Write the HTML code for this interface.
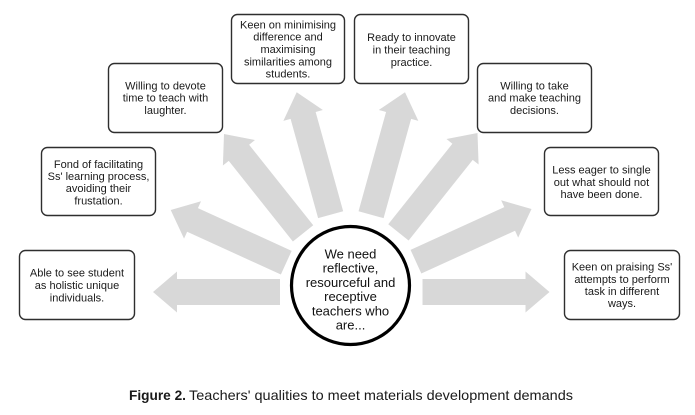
<!DOCTYPE html>
<html>
<head>
<meta charset="utf-8">
<style>
  html, body { margin: 0; padding: 0; background: #ffffff; }
  body { width: 695px; height: 415px; overflow: hidden; }
  svg { display: block; }
  .bt { font-family: "Liberation Sans", "DejaVu Sans", sans-serif; font-size: 11px; fill: #1a1a1a; text-anchor: middle; }
  .ct { font-family: "Liberation Sans", "DejaVu Sans", sans-serif; font-size: 13px; fill: #111; text-anchor: middle; }
  .cap { font-family: "Liberation Sans", "DejaVu Sans", sans-serif; font-size: 14px; fill: #1a1a1a; }
  .box { fill: #ffffff; stroke: #2e2e2e; stroke-width: 1.4; }
  .arr { fill: #d8d8d8; }
</style>
</head>
<body>
<svg width="695" height="415" viewBox="0 0 695 415" xmlns="http://www.w3.org/2000/svg">
  <defs>
    <polygon id="arrow" points="0,0 -24,-20.5 -24,-13 -127,-13 -127,13 -24,13 -24,20.5"/>
  </defs>

  <!-- Arrows -->
  <use href="#arrow" class="arr" transform="translate(153,292) rotate(180)"/>
  <use href="#arrow" class="arr" transform="translate(170.7,210) rotate(204.5)"/>
  <use href="#arrow" class="arr" transform="translate(224,134) rotate(231.5)"/>
  <use href="#arrow" class="arr" transform="translate(296.7,92.3) rotate(254.5)"/>
  <use href="#arrow" class="arr" transform="translate(405,92.3) rotate(285.5)"/>
  <use href="#arrow" class="arr" transform="translate(477.5,133) rotate(308.5)"/>
  <use href="#arrow" class="arr" transform="translate(531.5,209) rotate(335.5)"/>
  <use href="#arrow" class="arr" transform="translate(549.5,292) rotate(0)"/>

  <!-- Central circle -->
  <circle cx="350.5" cy="285.5" r="59" fill="#ffffff" stroke="#000" stroke-width="3.2"/>
  <text class="ct" x="350.5" y="258.5">We need</text>
  <text class="ct" x="350.5" y="272.7">reflective,</text>
  <text class="ct" x="350.5" y="286.9">resourceful and</text>
  <text class="ct" x="350.5" y="301.1">receptive</text>
  <text class="ct" x="350.5" y="315.3">teachers who</text>
  <text class="ct" x="350.5" y="329.5">are...</text>

  <!-- Box 1: Able -->
  <rect class="box" x="19.5" y="250.5" width="115" height="69" rx="6"/>
  <text class="bt" x="77" y="276.7">Able to see student</text>
  <text class="bt" x="77" y="289">as holistic unique</text>
  <text class="bt" x="77" y="301.3">individuals.</text>

  <!-- Box 2: Fond -->
  <rect class="box" x="41.5" y="147.5" width="114" height="68" rx="6"/>
  <text class="bt" x="98.5" y="167.8">Fond of facilitating</text>
  <text class="bt" x="98.5" y="180">Ss' learning process,</text>
  <text class="bt" x="98.5" y="192.2">avoiding their</text>
  <text class="bt" x="98.5" y="204.4">frustation.</text>

  <!-- Box 3: Willing to devote -->
  <rect class="box" x="108.5" y="63.5" width="114" height="69" rx="6"/>
  <text class="bt" x="165.5" y="89.3">Willing to devote</text>
  <text class="bt" x="165.5" y="101.6">time to teach with</text>
  <text class="bt" x="165.5" y="113.9">laughter.</text>

  <!-- Box 4: Keen on minimising -->
  <rect class="box" x="231.5" y="14.5" width="113" height="69" rx="6"/>
  <text class="bt" x="288" y="28.4">Keen on minimising</text>
  <text class="bt" x="288" y="40.7">difference and</text>
  <text class="bt" x="288" y="53">maximising</text>
  <text class="bt" x="288" y="65.3">similarities among</text>
  <text class="bt" x="288" y="77.6">students.</text>

  <!-- Box 5: Ready -->
  <rect class="box" x="354.5" y="14.5" width="114" height="69" rx="6"/>
  <text class="bt" x="411.5" y="41.2">Ready to innovate</text>
  <text class="bt" x="411.5" y="53.5">in their teaching</text>
  <text class="bt" x="411.5" y="65.8">practice.</text>

  <!-- Box 6: Willing to take -->
  <rect class="box" x="477.5" y="63.5" width="114" height="69" rx="6"/>
  <text class="bt" x="534.5" y="89.3">Willing to take</text>
  <text class="bt" x="534.5" y="101.6">and make teaching</text>
  <text class="bt" x="534.5" y="113.9">decisions.</text>

  <!-- Box 7: Less eager -->
  <rect class="box" x="544.5" y="147.5" width="114" height="68" rx="6"/>
  <text class="bt" x="601.5" y="173.6">Less eager to single</text>
  <text class="bt" x="601.5" y="185.9">out what should not</text>
  <text class="bt" x="601.5" y="198.2">have been done.</text>

  <!-- Box 8: Keen on praising -->
  <rect class="box" x="564.5" y="250.5" width="115" height="69" rx="6"/>
  <text class="bt" x="622" y="270.6">Keen on praising Ss'</text>
  <text class="bt" x="622" y="282.8">attempts to perform</text>
  <text class="bt" x="622" y="295">task in different</text>
  <text class="bt" x="622" y="307.2">ways.</text>

  <!-- Caption -->
  <text class="cap" x="129" y="400" font-weight="bold" textLength="57" lengthAdjust="spacingAndGlyphs">Figure 2.</text>
  <text class="cap" x="189" y="400" textLength="384" lengthAdjust="spacingAndGlyphs">Teachers' qualities to meet materials development demands</text>
</svg>
</body>
</html>
